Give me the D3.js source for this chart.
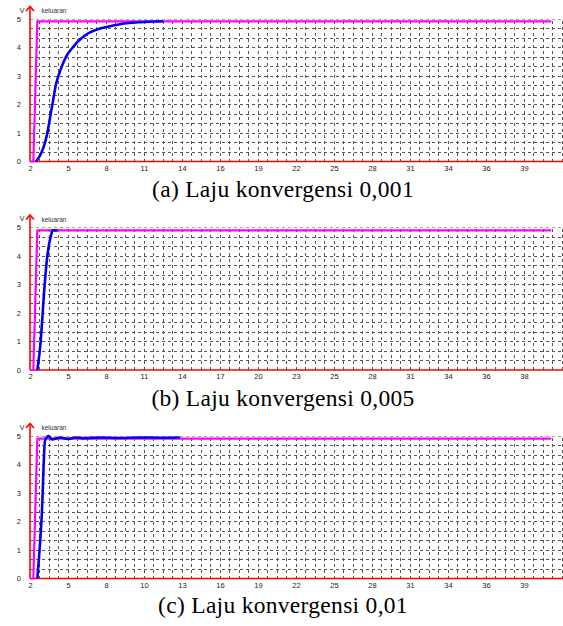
<!DOCTYPE html>
<html>
<head>
<meta charset="utf-8">
<script src="https://cdn.jsdelivr.net/npm/d3@7"></script>
<style>
  html, body { margin: 0; padding: 0; background: #fff; }
  svg { display: block; }
</style>
</head>
<body>
<svg id="chart" width="563" height="626"></svg>
<script>
// ---------------- data ----------------
const captions = ["(a) Laju konvergensi 0,001", "(b) Laju konvergensi 0,005", "(c) Laju konvergensi 0,01"];
const xTickLabelsA = ["2","5","8","11","14","16","19","22","25","28","31","34","36","39"];
const xTickLabelsB = ["2","5","8","11","14","17","20","23","25","28","31","34","36","38"];
const xTickLabelsC = ["2","5","8","10","13","16","19","22","25","28","31","34","36","39"];
const yTickLabels = [0, 1, 2, 3, 4, 5];
const xTickStep = 2.85;

// reference input (magenta)
const inputA = [[2,0],[2.25,0],[2.55,4.92],[41.1,4.92]];
const inputB = [[2,0],[2.25,0],[2.55,4.9],[41.1,4.9]];
const inputC = [[2,0],[2.25,0],[2.55,4.91],[41.1,4.91]];

// plant output (blue)
const outputA = [[2.45,0],[2.88,0.33],[3.13,0.67],[3.30,1.0],[3.43,1.33],[3.55,1.67],[3.68,2.0],[3.80,2.33],[3.93,2.67],[4.13,3.0],[4.38,3.33],[4.70,3.67],[5.20,4.0],[5.88,4.33],[6.37,4.5],[7.25,4.67],[8.25,4.77],[9.25,4.85],[10.25,4.89],[12.0,4.92]];
const outputB = [[2.55,0],[2.80,1.0],[2.95,2.0],[3.10,3.0],[3.30,4.0],[3.40,4.33],[3.55,4.67],[3.70,4.9],[4.05,4.9]];
const outputC = [[2.55,0],[2.88,2.2],[3.13,4.85],[3.40,5.0],[3.65,4.88],[4.25,4.95],[4.85,4.9],[5.45,4.95],[6.05,4.92],[7.25,4.95],[8.75,4.93],[10.25,4.95],[11.75,4.94],[13.25,4.95]];

const panels = [
  { labels: xTickLabelsA, input: inputA, output: outputA, top: 19, caption: captions[0], capY: 197 },
  { labels: xTickLabelsB, input: inputB, output: outputB, top: 227.5, caption: captions[1], capY: 406 },
  { labels: xTickLabelsC, input: inputC, output: outputC, top: 436, caption: captions[2], capY: 613 }
];

// ---------------- drawing ----------------
const svg = d3.select("#chart");
const W = 563;
const plotLeft = 30, plotRight = 562;
const plotH = 142.5;

const x = d3.scaleLinear().range([plotLeft, plotRight]);
x.domain([2, 2 + (plotRight - plotLeft) / 38 * xTickStep]);

const gridX = d3.range(57).map(i => 2 + i * xTickStep / 4);
const gridY = d3.range(16).map(i => i / 3);

panels.forEach(p => {
  const y = d3.scaleLinear().domain([0, 5]).range([p.top + plotH, p.top]);
  const g = svg.append("g");

  // grid
  g.selectAll(".gx").data(gridX.slice(1)).enter().append("line")
    .attr("x1", d => x(d)).attr("x2", d => x(d))
    .attr("y1", y(0)).attr("y2", y(5))
    .attr("stroke", "#555").attr("stroke-width", 1)
    .attr("stroke-dasharray", "3,3").attr("shape-rendering", "crispEdges");
  g.selectAll(".gy").data(gridY.slice(1)).enter().append("line")
    .attr("x1", plotLeft).attr("x2", W)
    .attr("y1", d => y(d)).attr("y2", d => y(d))
    .attr("stroke", d => d >= 4.99 ? "#aaa" : "#555").attr("stroke-width", 1)
    .attr("stroke-dasharray", "3,3").attr("shape-rendering", "crispEdges");

  // y axis labels
  const yAxis = d3.axisLeft(y).tickValues(yTickLabels).tickSize(0).tickPadding(9).tickFormat(d3.format("d"));
  const ya = g.append("g").attr("transform", `translate(${plotLeft},0)`).call(yAxis);
  ya.select(".domain").remove();
  ya.selectAll("text").attr("font-family", "Liberation Sans, Arial, sans-serif").attr("font-size", 7.5).attr("fill", "#222");

  // x axis labels
  const xAxis = d3.axisBottom(x).tickValues(d3.range(14).map(i => 2 + i * xTickStep))
    .tickSize(0).tickPadding(4).tickFormat((d, i) => p.labels[i]);
  const xa = g.append("g").attr("transform", `translate(0,${y(0)})`).call(xAxis);
  xa.select(".domain").remove();
  xa.selectAll("text").attr("font-family", "Liberation Sans, Arial, sans-serif").attr("font-size", 7.5).attr("fill", "#222");

  // red axes
  g.append("line").attr("x1", plotLeft).attr("x2", W).attr("y1", y(0)).attr("y2", y(0))
    .attr("stroke", "#ff0000").attr("stroke-width", 1.6);
  g.append("line").attr("x1", plotLeft).attr("x2", plotLeft).attr("y1", y(0)).attr("y2", p.top - 12)
    .attr("stroke", "#ff0000").attr("stroke-width", 1.6);
  g.append("path")
    .attr("d", `M${plotLeft - 4},${p.top - 8} L${plotLeft},${p.top - 12.5} L${plotLeft + 4},${p.top - 8}`)
    .attr("fill", "none").attr("stroke", "#ff0000").attr("stroke-width", 1.6);

  g.append("text").attr("x", 22).attr("y", p.top - 6.5).attr("text-anchor", "middle")
    .attr("font-family", "Liberation Sans, Arial, sans-serif").attr("font-size", 7).attr("fill", "#222").text("V");
  g.append("text").attr("x", 41.5).attr("y", p.top - 6).attr("font-family", "Liberation Sans, Arial, sans-serif")
    .attr("font-size", 6.5).attr("fill", "#333").text("keluaran");

  const line = d3.line().x(d => x(d[0])).y(d => y(d[1]));

  g.append("path").datum(p.input).attr("d", line).attr("fill", "none")
    .attr("stroke", "#ff00ff").attr("stroke-width", 2.2).attr("stroke-linejoin", "round");
  g.append("path").datum(p.output).attr("d", d3.line().x(d => x(d[0])).y(d => y(d[1])).curve(d3.curveMonotoneX))
    .attr("fill", "none").attr("stroke", "#0000ee").attr("stroke-width", 2.6).attr("stroke-linejoin", "round");

  svg.append("text").attr("x", 283).attr("y", p.capY).attr("text-anchor", "middle")
    .attr("font-family", "Liberation Serif, Times New Roman, serif").attr("font-size", 23.5).attr("fill", "#000")
    .attr("letter-spacing", 0.3)
    .text(p.caption);
});
</script>
</body>
</html>
